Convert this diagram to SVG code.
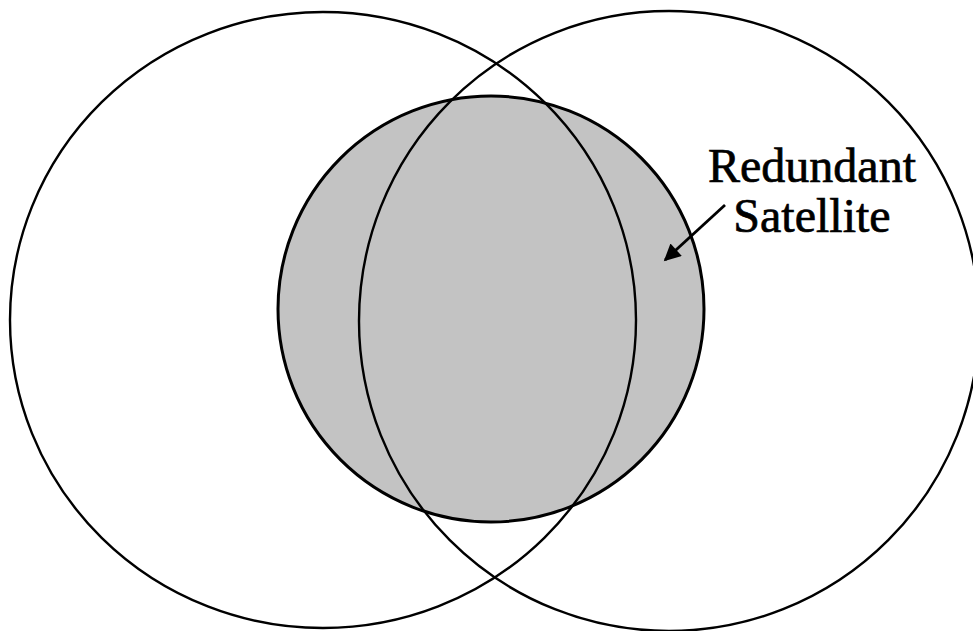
<svg xmlns="http://www.w3.org/2000/svg" width="973" height="631" viewBox="0 0 973 631">
<style>
.ring{fill:none;stroke:#000;stroke-width:2.4}
.lbl{font-family:"Liberation Serif","Times New Roman",serif;font-size:48px;fill:#000;stroke:#000;stroke-width:0.7;text-anchor:middle}
</style>
<defs>
<marker id="ah" viewBox="0 0 10 10" refX="9" refY="5" markerWidth="7" markerHeight="6" markerUnits="strokeWidth" orient="auto">
<path d="M0,0 L10,5 L0,10 Z" fill="#000"/>
</marker>
</defs>
<rect width="973" height="631" fill="#fff"/>
<g id="redundant-satellite">
<circle cx="491" cy="309" r="213" fill="#c3c3c3" stroke="#000" stroke-width="3"/>
</g>
<g id="satellite-left">
<ellipse class="ring" cx="323" cy="320" rx="313" ry="308"/>
</g>
<g id="satellite-right">
<circle class="ring" cx="669" cy="321" r="310"/>
</g>
<g id="label">
<text class="lbl" x="812" y="182">Redundant</text>
<text class="lbl" x="812" y="232">Satellite</text>
</g>
<g id="connectors">
<line x1="725" y1="205" x2="665" y2="260" stroke="#000" stroke-width="2.8" marker-end="url(#ah)"/>
</g>
</svg>
